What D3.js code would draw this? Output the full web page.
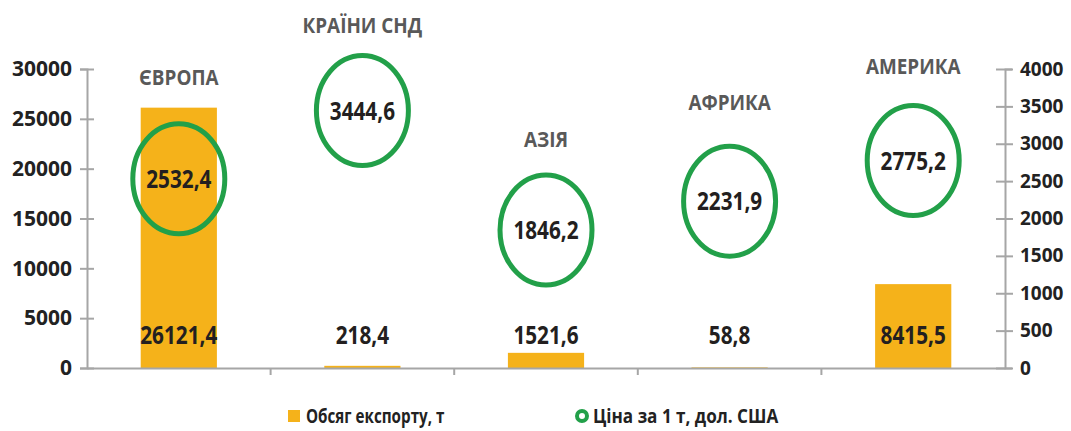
<!DOCTYPE html>
<html>
  <head>
    <meta charset="utf-8" />
    <script src="https://d3js.org/d3.v7.min.js"></script>
    <style>
      body { margin: 0; background: #fff; }
      text { font-family: "Open Sans", "Noto Sans", sans-serif; font-weight: 700; }
    </style>
  </head>
  <body>
    <svg id="chart"></svg>
    <script>
      // Data
      var regions = ["ЄВРОПА", "КРАЇНИ СНД", "АЗІЯ", "АФРИКА", "АМЕРИКА"];
      var exportVolume = [26121.4, 218.4, 1521.6, 58.8, 8415.5];
      var pricePerTon = [2532.4, 3444.6, 1846.2, 2231.9, 2775.2];
      var leftTicks = [0, 5000, 10000, 15000, 20000, 25000, 30000];
      var rightTicks = [0, 500, 1000, 1500, 2000, 2500, 3000, 3500, 4000];
      var legendLabels = ["Обсяг експорту, т", "Ціна за 1 т, дол. США"];

      var width = 1071;
      var height = 431;
      var orange = "#f5b21a";
      var green = "#22a049";
      var axisGrey = "#a6a6a6";

      // region label distance above the ring centre (hand placed in the original)
      var labelDy = [101, 85, 90, 98, 94];

      var svg = d3.select("#chart").attr("width", width).attr("height", height);

      var x = d3.scaleBand().domain(regions).range([87, 1005]);
      var yLeft = d3.scaleLinear().domain([0, 30000]).range([368, 69]);
      var yRight = d3.scaleLinear().domain([0, 4000]).range([368, 69]);

      var fmt = (v) => v.toFixed(1).replace(".", ",");
      var barW = x.bandwidth() * 0.415;

      // Left axis
      var gL = svg.append("g").attr("transform", "translate(87,0)")
        .call(d3.axisLeft(yLeft).tickValues(leftTicks).tickFormat(d3.format("d")).tickSize(7).tickPadding(8));
      gL.select(".domain").attr("stroke", axisGrey).attr("stroke-width", 2);
      gL.selectAll(".tick line").attr("x2", -7).attr("x1", 7).attr("stroke", axisGrey).attr("stroke-width", 2);
      gL.selectAll(".tick text").attr("x", -15)
        .style("font-size", "21px").style("font-family", "Open Sans").attr("fill", "#222");

      // Right axis
      var gR = svg.append("g").attr("transform", "translate(1005,0)")
        .call(d3.axisRight(yRight).tickValues(rightTicks).tickFormat(d3.format("d")).tickSize(7).tickPadding(8));
      gR.select(".domain").attr("stroke", axisGrey).attr("stroke-width", 2);
      gR.selectAll(".tick line").attr("x1", -9).attr("x2", 8).attr("stroke", axisGrey).attr("stroke-width", 2);
      gR.selectAll(".tick text").attr("x", 15)
        .style("font-size", "19px").style("font-family", "Open Sans").attr("fill", "#222");

      // Bars
      svg.append("g").selectAll("rect")
        .data(exportVolume)
        .join("rect")
        .attr("x", (d, i) => x(regions[i]) + x.bandwidth() / 2 - barW / 2)
        .attr("y", (d) => yLeft(d))
        .attr("width", barW)
        .attr("height", (d) => yLeft(0) - yLeft(d))
        .attr("fill", orange);

      // Bottom axis
      var gB = svg.append("g").attr("transform", "translate(0,368)")
        .call(d3.axisBottom(x).tickSize(0).tickFormat(""));
      gB.select(".domain").attr("stroke", axisGrey).attr("stroke-width", 2);
      gB.selectAll(".tick").remove();
      gB.selectAll(".sep")
        .data(regions.slice(1))
        .join("line")
        .attr("x1", (d) => x(d)).attr("x2", (d) => x(d))
        .attr("y1", 0).attr("y2", 7)
        .attr("stroke", axisGrey).attr("stroke-width", 2);

      // Bar value labels
      svg.append("g").selectAll("text")
        .data(exportVolume)
        .join("text")
        .attr("transform", (d, i) => "translate(" + (x(regions[i]) + x.bandwidth() / 2) + ",344) scale(0.83,1)")
        .attr("text-anchor", "middle")
        .style("font-size", "25px")
        .attr("fill", "#231f20")
        .text((d) => fmt(d));

      // Price rings
      var cx = (i) => x(regions[i]) + x.bandwidth() / 2;
      svg.append("g").selectAll("ellipse")
        .data(pricePerTon)
        .join("ellipse")
        .attr("cx", (d, i) => cx(i))
        .attr("cy", (d) => yRight(d))
        .attr("rx", 46)
        .attr("ry", 55)
        .attr("fill", "none")
        .attr("stroke", green)
        .attr("stroke-width", 5);

      svg.append("g").selectAll("text")
        .data(pricePerTon)
        .join("text")
        .attr("transform", (d, i) => "translate(" + cx(i) + "," + (yRight(d) + 9) + ") scale(0.83,1)")
        .attr("text-anchor", "middle")
        .style("font-size", "25px")
        .attr("fill", "#231f20")
        .text((d) => fmt(d));

      // Region names
      svg.append("g").selectAll("text")
        .data(regions)
        .join("text")
        .attr("transform", (d, i) => "translate(" + cx(i) + "," + (yRight(pricePerTon[i]) - labelDy[i] + 7) + ") scale(0.9,1)")
        .attr("text-anchor", "middle")
        .style("font-size", "21px")
        .attr("fill", "#595959")
        .text((d) => d);

      // Legend
      var lg = svg.append("g").attr("transform", "translate(0,416)");
      lg.append("rect").attr("x", 288).attr("y", -6).attr("width", 12).attr("height", 12).attr("fill", orange);
      lg.append("text").attr("y", 7).style("font-size", "19px").attr("fill", "#222")
        .attr("transform", "translate(306,0) scale(0.8,1)")
        .text(legendLabels[0]);
      lg.append("circle").attr("cx", 582).attr("cy", 0).attr("r", 5).attr("fill", "none")
        .attr("stroke", green).attr("stroke-width", 4);
      lg.append("text").attr("y", 7).style("font-size", "19px").attr("fill", "#222")
        .attr("transform", "translate(593,0) scale(0.9,1)")
        .text(legendLabels[1]);
    </script>
  </body>
</html>
